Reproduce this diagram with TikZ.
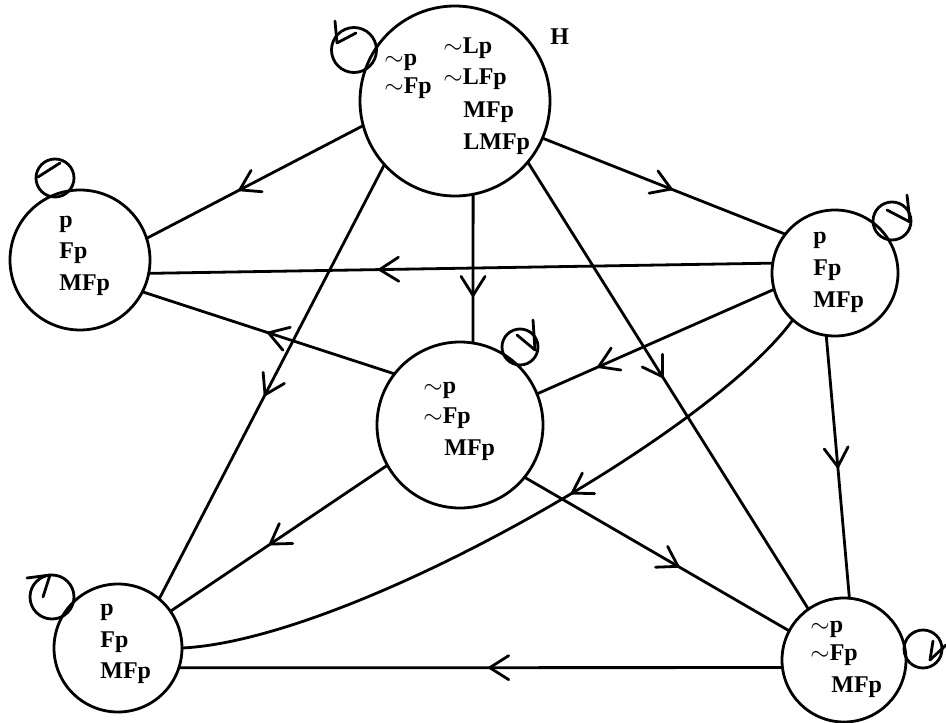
\documentclass[tikz,border=0pt]{standalone}
\usepackage{fontspec}
\setmainfont{Liberation Serif}
\usetikzlibrary{decorations.markings}
\begin{document}
\begin{tikzpicture}[x=1pt,y=-1pt,line width=2.8pt,line cap=round,line join=round,
  state/.style={circle,draw,inner sep=0pt,outer sep=0pt,minimum size=#1},
  loopc/.style={circle,draw,inner sep=0pt,outer sep=0pt,minimum size=#1},
  lbl/.style={anchor=base west,inner sep=0pt,font=\bfseries\fontsize{24}{28}\selectfont},
  arr/.style={postaction={decorate,decoration={markings,mark=at position #1 with {\draw[line width=2.8pt] (-19,-12) -- (0,0) -- (-19,12);}}}}]
\useasboundingbox (0,0) rectangle (946,723);
% states
\node[state=190pt] (H) at (455,101) {};
\node[state=140pt] (LT) at (80,260) {};
\node[state=126pt] (RT) at (835,273) {};
\node[state=166pt] (M) at (460,425) {};
\node[state=128pt] (BL) at (118,648) {};
\node[state=124pt] (BR) at (844,660) {};
% loops
\node[loopc=45pt] (lH) at (354,50) {};
\node[loopc=38pt] (lLT) at (55,178) {};
\node[loopc=38pt] (lRT) at (892,221) {};
\node[loopc=36pt] (lM) at (520,347) {};
\node[loopc=44pt] (lBL) at (52,597) {};
\node[loopc=38pt] (lBR) at (923,649) {};
\draw (335,21) -- (337,43) -- (356,33);
\draw (38,177) -- (60,163);
\draw (907,195) -- (910,222) -- (887,210);
\draw (533,320) -- (535,350) -- (517,335);
\draw (27,578) -- (50,575) -- (43,597);
\draw (933,641) -- (930,660) -- (946,645);
% labels
\node[lbl] (h1) at (383,65) {$\sim$p};
\node[lbl] (h2) at (383,93) {$\sim$Fp};
\node[lbl] (h3) at (442,53) {$\sim$Lp};
\node[lbl] (h4) at (442,84) {$\sim$LFp};
\node[lbl] (h5) at (462,117) {MFp};
\node[lbl] (h6) at (462,149) {LMFp};
\node[lbl] (hH) at (549,44) {H};
\node[lbl] (a1) at (58,227) {p};
\node[lbl] (a2) at (58,258) {Fp};
\node[lbl] (a3) at (58,290) {MFp};
\node[lbl] (b1) at (812,243) {p};
\node[lbl] (b2) at (812,275) {Fp};
\node[lbl] (b3) at (812,307) {MFp};
\node[lbl] (c1) at (422,393) {$\sim$p};
\node[lbl] (c2) at (422,423) {$\sim$Fp};
\node[lbl] (c3) at (443,455) {MFp};
\node[lbl] (d1) at (99,615) {p};
\node[lbl] (d2) at (99,647) {Fp};
\node[lbl] (d3) at (99,678) {MFp};
\node[lbl] (e1) at (809,632) {$\sim$p};
\node[lbl] (e2) at (809,660) {$\sim$Fp};
\node[lbl] (e3) at (830,692) {MFp};
% connectors
\draw[arr=0.57] (H.195.6) -- (LT.18);
\draw[arr=0.53] (H.337.6) -- (RT.142.4);
\draw[arr=0.68] (H.281) -- (M.81.7);
\draw[arr=0.53] (H.222.8) -- (BL.50.5);
\draw[arr=0.48] (H.320.4) -- (BR.125.4);
\draw[arr=0.63] (RT.171) -- (LT.349.3);
\draw[arr=0.5] (M.142.2) -- (LT.333.8);
\draw[arr=0.74] (RT.195.1) -- (M.22.9);
\draw[arr=0.5] (RT.262.6) -- (BR.85.5);
\draw[arr=0.4] (RT.228.7) .. controls (712,432) and (350,640) .. (BL.0);
\draw[arr=0.54] (M.209.9) -- (BL.35.1);
\draw[arr=0.58] (M.321.7) -- (BR.152.2);
\draw[arr=0.485] (BR.187.4) -- (BL.342.1);
\end{tikzpicture}
\end{document}
